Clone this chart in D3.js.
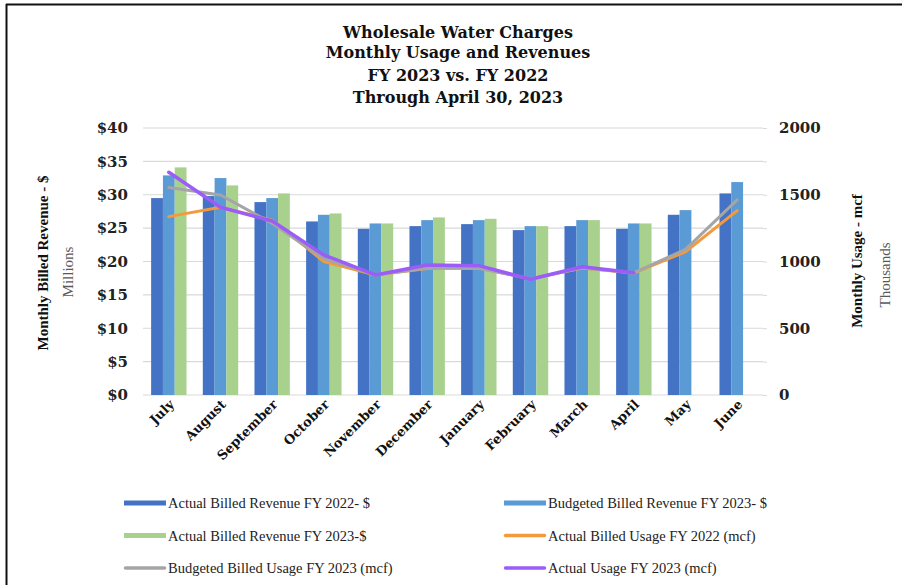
<!DOCTYPE html>
<html>
<head>
<meta charset="utf-8">
<script src="https://cdn.jsdelivr.net/npm/d3@7/dist/d3.min.js"></script>
<style>
  html, body { margin: 0; padding: 0; background: #fff; }
  svg { display: block; }
</style>
</head>
<body>
<div id="chart"></div>
<script>
const months = ["July", "August", "September", "October", "November", "December",
  "January", "February", "March", "April", "May", "June"];

// revenue, $ millions
const actualRev2022 = [29.5, 29.8, 28.9, 26.0, 24.9, 25.3, 25.6, 24.7, 25.3, 24.9, 27.0, 30.2];
const budgetRev2023 = [32.9, 32.5, 29.5, 27.0, 25.7, 26.2, 26.2, 25.3, 26.2, 25.7, 27.7, 31.9];
const actualRev2023 = [34.1, 31.4, 30.2, 27.2, 25.7, 26.6, 26.4, 25.3, 26.2, 25.7, null, null];

// usage, thousands of mcf
const usage2022 = [1336, 1406, 1310, 1000, 899, 948, 952, 870, 952, 913, 1073, 1381];
const budgetUsage2023 = [1555, 1498, 1286, 1020, 900, 950, 950, 870, 952, 915, 1091, 1461];
const actualUsage2023 = [1668, 1406, 1303, 1049, 899, 974, 969, 867, 961, 916, null, null];

const leftTicks = [0, 5, 10, 15, 20, 25, 30, 35, 40];
const rightTicks = [0, 250, 500, 750, 1000, 1250, 1500, 1750, 2000];

const titleLines = ["Wholesale Water Charges", "Monthly Usage and Revenues",
  "FY 2023 vs. FY 2022", "Through April 30, 2023"];

const barSeries = [
  { name: "Actual Billed Revenue FY 2022- $", values: actualRev2022, color: "#4472c4" },
  { name: "Budgeted Billed Revenue FY 2023- $", values: budgetRev2023, color: "#5b9bd5" },
  { name: "Actual Billed Revenue FY 2023-$", values: actualRev2023, color: "#a9d18e" }
];
const lineSeries = [
  { name: "Actual Billed Usage FY 2022 (mcf)", values: usage2022, color: "#f39b3c", w: 3 },
  { name: "Budgeted Billed Usage FY 2023 (mcf)", values: budgetUsage2023, color: "#a5a5a5", w: 3 },
  { name: "Actual Usage FY 2023 (mcf)", values: actualUsage2023, color: "#9b5cf7", w: 3.5 }
];

const W = 902, H = 585;
const plot = { left: 143, right: 763, top: 128, bottom: 395 };

const svg = d3.select("#chart").append("svg")
  .attr("width", W)
  .attr("height", H);

// frame edges of the cropped screenshot
svg.append("line").attr("x1", 6).attr("x2", W).attr("y1", 4.5).attr("y2", 4.5)
  .attr("stroke", "#111").attr("stroke-width", 2);
svg.append("line").attr("x1", 6.5).attr("x2", 6.5).attr("y1", 4).attr("y2", H)
  .attr("stroke", "#111").attr("stroke-width", 2);

// title
svg.append("g").selectAll("text")
  .data(titleLines)
  .enter().append("text")
  .attr("x", 458)
  .attr("y", (d, i) => [37.5, 58, 81, 102.5][i])
  .attr("text-anchor", "middle")
  .style("font-family", "'DejaVu Serif', serif")
  .style("font-weight", "bold")
  .style("font-size", "16px")
  .style("fill", "#111")
  .text(d => d);

const x0 = d3.scaleBand()
  .domain(months)
  .range([plot.left, plot.right])
  .paddingInner(0.315)
  .paddingOuter(0.1575);

const x1 = d3.scaleBand()
  .domain(barSeries.map(s => s.name))
  .range([0, x0.bandwidth()]);

const yLeft = d3.scaleLinear().domain([0, 40]).range([plot.bottom, plot.top]);
const yRight = d3.scaleLinear().domain([0, 2000]).range([plot.bottom, plot.top]);

// gridlines
svg.append("g")
  .selectAll("line")
  .data(leftTicks)
  .enter().append("line")
  .attr("x1", plot.left)
  .attr("x2", plot.right)
  .attr("y1", d => yLeft(d))
  .attr("y2", d => yLeft(d))
  .attr("stroke", "#d9d9d9")
  .attr("stroke-width", 1.2);

// left axis
svg.append("g")
  .attr("transform", `translate(${plot.left},0)`)
  .call(d3.axisLeft(yLeft).tickValues(leftTicks).tickSize(0).tickPadding(15)
    .tickFormat(d => "$" + d))
  .call(g => g.select(".domain").remove())
  .call(g => g.selectAll("text")
    .style("font-family", "'DejaVu Serif', serif")
    .style("font-weight", "bold")
    .style("font-size", "15px")
    .style("fill", "#222"));

// right axis
svg.append("g")
  .attr("transform", `translate(${plot.right},0)`)
  .call(d3.axisRight(yRight).tickValues(rightTicks).tickSize(4).tickPadding(12)
    .tickFormat(d => d % 500 === 0 ? d : ""))
  .call(g => g.select(".domain").remove())
  .call(g => g.selectAll("line").attr("stroke", "#d9d9d9"))
  .call(g => g.selectAll("text")
    .style("font-family", "'DejaVu Serif', serif")
    .style("font-weight", "bold")
    .style("font-size", "15px")
    .style("fill", "#222"));

// month labels
svg.append("g")
  .selectAll("text")
  .data(months)
  .enter().append("text")
  .attr("transform", d => `translate(${x0(d) + x0.bandwidth() / 2 + 3},${plot.bottom + 7}) rotate(-45)`)
  .attr("text-anchor", "end")
  .attr("dy", "0.35em")
  .style("font-family", "'DejaVu Serif', serif")
  .style("font-weight", "bold")
  .style("font-size", "13px")
  .style("fill", "#111")
  .text(d => d);

// bars
barSeries.forEach(s => {
  svg.append("g")
    .selectAll("rect")
    .data(months.map((m, i) => ({ m, v: s.values[i] })).filter(d => d.v != null))
    .enter().append("rect")
    .attr("x", d => x0(d.m) + x1(s.name))
    .attr("width", x1.bandwidth())
    .attr("y", d => yLeft(d.v))
    .attr("height", d => yLeft(0) - yLeft(d.v))
    .attr("fill", s.color);
});

// usage lines
const cx = m => x0(m) + x0.bandwidth() / 2;
lineSeries.forEach(s => {
  const line = d3.line()
    .defined(d => d.v != null)
    .x(d => cx(d.m))
    .y(d => yRight(d.v));
  svg.append("path")
    .datum(months.map((m, i) => ({ m, v: s.values[i] })))
    .attr("fill", "none")
    .attr("stroke", s.color)
    .attr("stroke-width", s.w)
    .attr("stroke-linejoin", "round")
    .attr("stroke-linecap", "round")
    .attr("d", line);
});

// axis titles
function axisTitle(x, y, txt, bold, size, color) {
  svg.append("text")
    .attr("transform", `translate(${x},${y}) rotate(-90)`)
    .attr("text-anchor", "middle")
    .style("font-family", "'Liberation Serif', serif")
    .style("font-weight", bold ? "bold" : "normal")
    .style("font-size", size)
    .style("fill", color)
    .text(txt);
}
axisTitle(48, 263, "Monthly Billed Revenue - $", true, "15px", "#111");
axisTitle(73, 272, "Millions", false, "15px", "#595959");
axisTitle(862, 261, "Monthly Usage - mcf", true, "15px", "#111");
axisTitle(890, 275, "Thousands", false, "15px", "#595959");

// legend
const legendItems = [
  { s: barSeries[0], type: "bar" }, { s: barSeries[1], type: "bar" },
  { s: barSeries[2], type: "bar" }, { s: lineSeries[0], type: "line" },
  { s: lineSeries[1], type: "line" }, { s: lineSeries[2], type: "line" }
];
const legend = svg.selectAll(".legend")
  .data(legendItems)
  .enter().append("g")
  .attr("class", "legend")
  .attr("transform", (d, i) => `translate(${i % 2 === 0 ? 124 : 504},${503 + Math.floor(i / 2) * 32.5})`);

legend.each(function (d) {
  const g = d3.select(this);
  if (d.type === "bar") {
    g.append("rect").attr("x", 0).attr("y", -2.5).attr("width", 42).attr("height", 5)
      .attr("fill", d.s.color);
  } else {
    g.append("line").attr("x1", 1.5).attr("x2", 40.5).attr("y1", 0).attr("y2", 0)
      .attr("stroke", d.s.color).attr("stroke-width", 3.5).attr("stroke-linecap", "round");
  }
});

legend.append("text")
  .attr("x", 44)
  .attr("y", 0)
  .attr("dy", "0.35em")
  .style("font-family", "'Liberation Serif', serif")
  .style("font-size", "14.5px")
  .style("fill", "#222")
  .text(d => d.s.name);
</script>
</body>
</html>
